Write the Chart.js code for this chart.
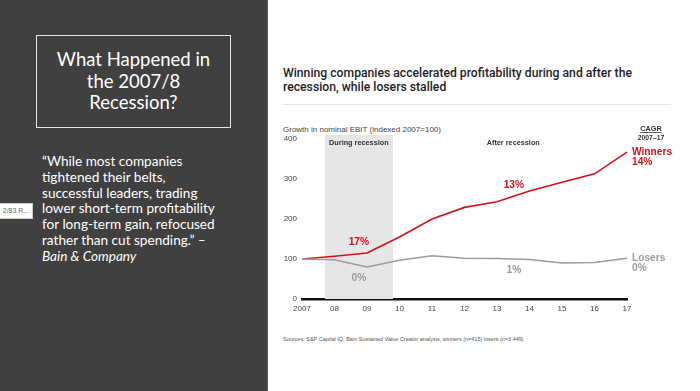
<!DOCTYPE html>
<html>
<head>
<meta charset="utf-8">
<script src="https://cdn.jsdelivr.net/npm/chart.js@4.4.1/dist/chart.umd.min.js"></script>
<style>
  html, body { margin: 0; padding: 0; }
  body { width: 700px; height: 391px; position: relative; overflow: hidden; background: #fff; }
  #left { position: absolute; left: 0; top: 0; width: 267px; height: 391px; background: #404040; border-right: 1px solid #5a5a5a; }
  #titlebox { position: absolute; left: 36px; top: 35px; width: 193px; height: 91px; border: 1.5px solid #e8e8e8;
    color: #fff; font-family: Lato, "Open Sans", sans-serif; font-size: 18.5px; line-height: 21.5px; text-align: center;
    display: flex; align-items: center; justify-content: center; }
  #quote { position: absolute; left: 42px; top: 154px; width: 225px; color: #fff; white-space: nowrap;
    font-family: Lato, "Open Sans", sans-serif; font-size: 13.6px; line-height: 15.8px; }
  #tag { position: absolute; left: -1px; top: 203px; width: 32px; height: 14px; background: #fff; border: 1px solid #ccc;
    font-family: "Liberation Sans", Arial, sans-serif; font-size: 7px; line-height: 14px; color: #666; text-align: center; }
  #ctitle { position: absolute; left: 283px; top: 66px; width: 410px; color: #1e1e1e; white-space: nowrap;
    font-family: Roboto, "Liberation Sans", sans-serif; font-weight: 500; font-size: 12.2px; line-height: 14px; }
  #rule { position: absolute; left: 283px; top: 104px; width: 388px; height: 1px; background: #e4e4e4; }
  #sub { position: absolute; left: 283px; top: 125px; color: #444;
    font-family: "Liberation Sans", Arial, sans-serif; font-size: 8px; }
  #src { position: absolute; left: 283px; top: 336px; color: #555;
    font-family: "Liberation Sans", Arial, sans-serif; font-size: 5.5px; }
  #chartwrap { position: absolute; left: 268px; top: 110px; width: 432px; height: 220px; }
</style>
</head>
<body>
<div id="left">
  <div id="titlebox"><div>What Happened in<br>the 2007/8<br>Recession?</div></div>
  <div id="quote">“While most companies<br>tightened their belts,<br>successful leaders, trading<br>lower short-term profitability<br>for long-term gain, refocused<br>rather than cut spending.” –<br><i>Bain &amp; Company</i></div>
</div>
<div id="tag">2/83 R...</div>
<div id="ctitle">Winning companies accelerated profitability during and after the<br>recession, while losers stalled</div>
<div id="rule"></div>
<div id="sub">Growth in nominal EBIT (indexed 2007=100)</div>
<div id="chartwrap"><canvas id="c" width="432" height="220"></canvas></div>
<div id="src">Sources: S&amp;P Capital IQ; Bain Sustained Value Creator analysis, winners (n=415) losers (n=3,449)</div>

<script>
// données (indice 2007 = 100)
const years = ['2007', '08', '09', '10', '11', '12', '13', '14', '15', '16', '17'];
const winners = [100, 107, 115, 155, 200, 229, 243, 270, 292, 313, 367];
const losers = [100, 98, 80, 97, 108, 102, 101, 99, 90, 91, 102];
const yTicks = [0, 100, 200, 300, 400];

const RED = '#d0111b';
const GREY = '#9b9b9b';

// ----- Annotations dessinées à la main sur le canvas -----
const annotations = {
  id: 'annotations',
  beforeDatasetsDraw(chart) {
    const { ctx, scales: { x, y } } = chart;
    // zone "pendant la récession"
    ctx.save();
    ctx.fillStyle = '#e6e6e7';
    const x0 = x.getPixelForValue(0.71), x1 = x.getPixelForValue(2.8);
    const top = y.getPixelForValue(410);
    ctx.fillRect(x0, top, x1 - x0, y.getPixelForValue(0) - top);
    ctx.restore();
  },
  afterDatasetsDraw(chart) {
    const { ctx, scales: { x, y } } = chart;
    const txt = (s, px, py, color, font, align) => {
      ctx.fillStyle = color;
      ctx.font = font;
      ctx.textAlign = align || 'center';
      ctx.textBaseline = 'middle';
      ctx.fillText(s, px, py);
    };
    ctx.save();
    const bold = 'bold 7.3px "Liberation Sans", Arial';
    txt('During recession', x.getPixelForValue(1.75), y.getPixelForValue(390), '#333', bold);
    txt('After recession', x.getPixelForValue(6.5), y.getPixelForValue(390), '#333', bold);

    const big = 'bold 10.2px "Liberation Sans", Arial';
    txt('17%', x.getPixelForValue(1.75), y.getPixelForValue(142), RED, big);
    txt('0%', x.getPixelForValue(1.75), y.getPixelForValue(52), GREY, big);
    txt('13%', x.getPixelForValue(6.52), y.getPixelForValue(285), RED, big);
    txt('1%', x.getPixelForValue(6.52), y.getPixelForValue(72), GREY, big);

    const right = x.getPixelForValue(10) + 5;
    txt('Winners', right, y.getPixelForValue(367), RED, big, 'left');
    txt('14%', right, y.getPixelForValue(342), RED, big, 'left');
    txt('Losers', right, y.getPixelForValue(102), GREY, big, 'left');
    txt('0%', right, y.getPixelForValue(77), GREY, big, 'left');

    // CAGR
    const cx = right + 19;
    txt('CAGR', cx, y.getPixelForValue(426), '#333', bold);
    const w = ctx.measureText('CAGR').width;
    ctx.fillStyle = '#333';
    ctx.fillRect(cx - w / 2, y.getPixelForValue(426) + 3.6, w, 0.8);
    txt('2007–17', cx, y.getPixelForValue(402), '#333', 'bold 6.8px "Liberation Sans", Arial');
    ctx.restore();
  }
};

new Chart(document.getElementById('c'), {
  type: 'line',
  data: {
    labels: years,
    datasets: [
      { label: 'Losers', data: losers, borderColor: GREY, borderWidth: 1.5, pointRadius: 0, tension: 0 },
      { label: 'Winners', data: winners, borderColor: RED, borderWidth: 1.6, pointRadius: 0, tension: 0 }
    ]
  },
  options: {
    responsive: false,
    animation: false,
    layout: { padding: { top: 29, right: 73, bottom: 11, left: 0 } },
    plugins: { legend: { display: false }, tooltip: { enabled: false } },
    scales: {
      x: {
        offset: false,
        grid: { display: false, drawTicks: false },
        border: { display: true, color: '#111', width: 2.5 },
        ticks: { color: '#444', font: { family: '"Liberation Sans", Arial', size: 8 }, padding: 5, maxRotation: 0, autoSkip: false },
        afterFit(s) { s.height = 20; }
      },
      y: {
        min: 0,
        max: 400,
        afterBuildTicks(s) { s.ticks = yTicks.map(v => ({ value: v })); },
        grid: { display: false, drawTicks: false },
        border: { display: false },
        ticks: { color: '#444', font: { family: '"Liberation Sans", Arial', size: 8 }, padding: 5 },
        afterFit(s) { s.width = 34; }
      }
    }
  },
  plugins: [annotations]
});
</script>
</body>
</html>
